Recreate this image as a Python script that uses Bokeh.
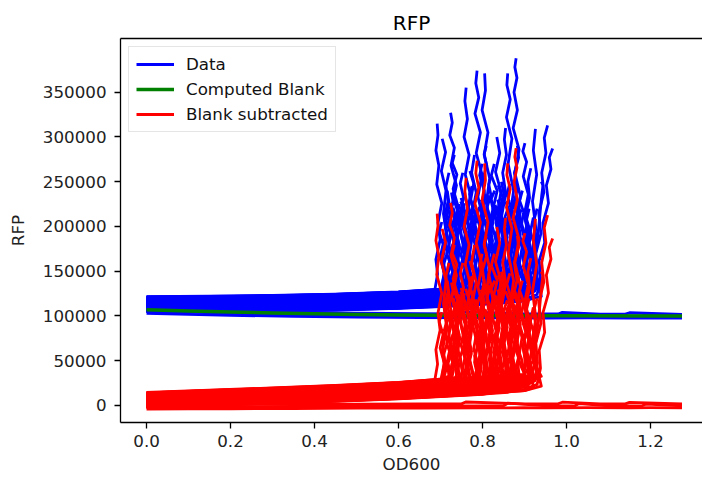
import numpy as np
from bokeh.plotting import figure
from bokeh.models import (Range1d, FixedTicker, LinearAxis, Legend, LegendItem,
                          ColumnDataSource, NumeralTickFormatter)
from bokeh.embed import file_html
from bokeh.resources import INLINE

# ---------------- data ----------------
GREEN_OD = [0.0, 0.1, 0.2, 0.3, 0.4, 0.5, 0.6, 0.7, 0.8, 1.0, 1.275]
GREEN_RFP = [107000, 105600, 104400, 103400, 102500, 101700, 101100, 100700, 100500, 100300, 100100]

B1_OD = [0.0, 0.1, 0.2, 0.35, 0.5, 0.65, 0.8, 0.9, 0.95, 1.05, 1.15, 1.2, 1.275]
B1_RFP = [103000, 101800, 100700, 99600, 98700, 98100, 97800, 97900, 97600, 97800, 97500, 97700, 97500]
B2_OD = [0.0, 0.1, 0.2, 0.35, 0.5, 0.65, 0.8, 0.85, 0.86, 0.95, 1.02, 1.03, 1.1, 1.18, 1.19, 1.275]
B2_RFP = [105500, 104200, 103000, 101800, 100900, 100300, 100000, 100100, 103000, 100000, 99900, 102500, 99800, 99800, 101800, 99700]
B3_OD = [0.0, 0.1, 0.2, 0.35, 0.5, 0.65, 0.75, 0.76, 0.9, 0.98, 0.99, 1.08, 1.14, 1.15, 1.275]
B3_RFP = [108000, 106700, 105500, 104200, 103200, 102600, 102400, 104500, 102300, 102200, 104000, 102100, 102000, 103600, 101900]

EARLY_OD = [0.0, 0.15, 0.3, 0.45, 0.6]

W01_OD = EARLY_OD + [0.67, 0.686, 0.693, 0.689, 0.699, 0.694, 0.703, 0.691, 0.696, 0.689, 0.694, 0.692]
W01_RFP = [113000, 113800, 114500, 116000, 118500, 121500, 128000, 147000, 163000, 185000, 204000, 226000, 247000, 268000, 285000, 302000, 315000]
W02_OD = EARLY_OD + [0.68, 0.70, 0.711, 0.704, 0.716, 0.707, 0.713, 0.702, 0.712, 0.704]
W02_RFP = [109000, 109500, 110200, 111500, 113500, 116000, 121000, 140000, 162000, 188000, 214000, 240000, 262000, 283000, 298000]
W03_OD = EARLY_OD + [0.7, 0.735, 0.744, 0.731, 0.739, 0.727, 0.738, 0.725, 0.733, 0.722, 0.728, 0.724]
W03_RFP = [117000, 117800, 118600, 120000, 123000, 126000, 129000, 146000, 170000, 196000, 222000, 246000, 268000, 288000, 302000, 316000, 327000]
W04_OD = EARLY_OD + [0.7, 0.77, 0.779, 0.766, 0.774, 0.763, 0.771, 0.759, 0.768, 0.756, 0.764, 0.758, 0.761]
W04_RFP = [106000, 106300, 106800, 107500, 109000, 111500, 115000, 134000, 158000, 184000, 210000, 236000, 258000, 280000, 300000, 320000, 340000, 355000]
W05_OD = EARLY_OD + [0.7, 0.8, 0.807, 0.794, 0.802, 0.789, 0.799, 0.785, 0.795, 0.782, 0.791, 0.784, 0.787]
W05_RFP = [119000, 119800, 120500, 122000, 124500, 127000, 130000, 152000, 180000, 208000, 233000, 258000, 282000, 305000, 326000, 344000, 360000, 374000]
W06_OD = EARLY_OD + [0.7, 0.82, 0.826, 0.813, 0.823, 0.809, 0.817, 0.804, 0.813, 0.799, 0.807, 0.805]
W06_RFP = [111000, 111500, 112200, 113500, 115500, 118000, 121000, 143000, 170000, 198000, 226000, 254000, 280000, 305000, 330000, 352000, 371000]
W07_OD = EARLY_OD + [0.7, 0.8, 0.875, 0.869, 0.879, 0.865, 0.874, 0.861, 0.87, 0.857, 0.866, 0.858, 0.86]
W07_RFP = [115000, 115600, 116300, 117500, 120000, 122500, 125000, 128000, 152000, 180000, 210000, 240000, 270000, 298000, 322000, 342000, 358000, 371000]
W08_OD = EARLY_OD + [0.7, 0.8, 0.89, 0.884, 0.894, 0.881, 0.89, 0.877, 0.887, 0.873, 0.883, 0.875, 0.882, 0.877, 0.88]
W08_RFP = [108000, 108400, 109000, 110000, 112000, 114500, 117000, 121000, 148000, 176000, 205000, 234000, 260000, 286000, 310000, 330000, 350000, 366000, 378000, 388000]
W09_OD = EARLY_OD + [0.7, 0.8, 0.9, 0.935, 0.924, 0.917, 0.927, 0.919, 0.929, 0.921, 0.926]
W09_RFP = [114000, 114600, 115300, 116500, 118800, 121000, 124500, 128500, 134000, 146000, 170000, 198000, 228000, 258000, 285000, 309000]
W10_OD = EARLY_OD + [0.7, 0.8, 0.9, 0.925, 0.931, 0.927, 0.939, 0.934, 0.946, 0.941, 0.951, 0.947, 0.955]
W10_RFP = [110000, 110500, 111200, 112300, 114300, 116500, 119000, 122000, 128000, 148000, 170000, 192000, 215000, 238000, 260000, 282000, 299000, 313000]
W11_OD = EARLY_OD + [0.7, 0.8, 0.9, 0.93, 0.938, 0.935, 0.948, 0.944, 0.957, 0.952, 0.963, 0.959, 0.967]
W11_RFP = [107000, 107400, 108000, 109000, 111000, 113000, 115500, 118500, 124000, 142000, 162000, 182000, 204000, 226000, 246000, 264000, 277000, 287000]
W12_OD = EARLY_OD + [0.7, 0.8, 0.91, 0.904, 0.913, 0.899, 0.909, 0.897, 0.905, 0.896, 0.901]
W12_RFP = [120000, 120800, 121600, 123000, 125500, 128000, 130500, 133000, 158000, 186000, 212000, 236000, 256000, 272000, 284000, 293000]
W13_OD = EARLY_OD + [0.7, 0.755, 0.763, 0.749, 0.759, 0.745, 0.755, 0.747, 0.753]
W13_RFP = [112000, 112500, 113200, 114500, 116800, 119000, 122000, 145000, 168000, 192000, 212000, 232000, 248000, 260000]
W14_OD = EARLY_OD + [0.7, 0.785, 0.793, 0.779, 0.789, 0.775, 0.785, 0.774, 0.781]
W14_RFP = [108500, 108900, 109500, 110500, 112500, 115000, 118000, 140000, 164000, 190000, 214000, 238000, 260000, 280000]
W15_OD = EARLY_OD + [0.7, 0.8, 0.835, 0.843, 0.829, 0.839, 0.825, 0.835, 0.821, 0.828]
W15_RFP = [116000, 116600, 117300, 118600, 121000, 123500, 126000, 129000, 150000, 174000, 198000, 220000, 240000, 257000, 270000]
W16_OD = EARLY_OD + [0.7, 0.8, 0.855, 0.863, 0.849, 0.859, 0.845, 0.853, 0.845]
W16_RFP = [105500, 105800, 106300, 107200, 109000, 111200, 113500, 116500, 140000, 164000, 188000, 210000, 231000, 250000]
W17_OD = EARLY_OD + [0.7, 0.72, 0.729, 0.715, 0.725, 0.713, 0.721, 0.716]
W17_RFP = [118500, 119200, 120000, 121500, 124000, 127500, 131000, 150000, 170000, 190000, 207000, 224000, 240000]
W18_OD = EARLY_OD + [0.7, 0.8, 0.905, 0.891, 0.879, 0.887, 0.873, 0.883, 0.87]
W18_RFP = [117500, 118200, 119000, 120300, 122800, 125300, 127000, 130500, 145000, 164000, 183000, 199000, 215000, 230000]
W19_OD = EARLY_OD + [0.7, 0.8, 0.848, 0.839, 0.848, 0.835, 0.844, 0.831, 0.841, 0.834]
W19_RFP = [121000, 121700, 122500, 124000, 126500, 129500, 132000, 134000, 160000, 188000, 214000, 239000, 261000, 282000, 300000]
W20_OD = EARLY_OD + [0.7, 0.8, 0.9, 0.94, 0.929, 0.917, 0.925, 0.914, 0.921]
W20_RFP = [106500, 106800, 107300, 108200, 110000, 112200, 117000, 124000, 133000, 143000, 160000, 177000, 194000, 210000]
W21_OD = EARLY_OD + [0.7, 0.8, 0.811, 0.799, 0.809, 0.795, 0.805, 0.797]
W21_RFP = [113500, 114000, 114800, 116000, 118300, 120800, 123000, 140000, 160000, 180000, 198000, 215000, 230000]
W22_OD = EARLY_OD + [0.7, 0.775, 0.764, 0.773, 0.759, 0.769, 0.757]
W22_RFP = [110500, 110900, 111600, 112800, 115000, 117500, 121000, 140000, 158000, 176000, 195000, 215000]
W23_OD = EARLY_OD + [0.68, 0.705, 0.714, 0.707, 0.717, 0.709, 0.715, 0.711]
W23_RFP = [114500, 115000, 115700, 117000, 119500, 123000, 127000, 142000, 157000, 172000, 185000, 195000, 200000]
W24_OD = EARLY_OD + [0.7, 0.73, 0.738, 0.733, 0.743, 0.737, 0.748, 0.741, 0.745]
W24_RFP = [107500, 107900, 108500, 109500, 111500, 114000, 118000, 135000, 152000, 170000, 186000, 202000, 215000, 225000]
W25_OD = EARLY_OD + [0.7, 0.76, 0.767, 0.762, 0.771, 0.765, 0.776, 0.769, 0.775]
W25_RFP = [119500, 120200, 121000, 122500, 125000, 128500, 132000, 150000, 168000, 187000, 205000, 222000, 236000, 245000]
W26_OD = EARLY_OD + [0.7, 0.79, 0.797, 0.792, 0.802, 0.796, 0.806, 0.8, 0.81, 0.804, 0.809]
W26_RFP = [112500, 113000, 113700, 115000, 117300, 120000, 123000, 143000, 165000, 188000, 210000, 232000, 252000, 268000, 281000, 290000]
W27_OD = EARLY_OD + [0.7, 0.8, 0.84, 0.846, 0.84, 0.85, 0.844, 0.855, 0.848, 0.857, 0.852, 0.855]
W27_RFP = [109500, 110000, 110600, 111700, 113800, 116500, 119000, 121500, 142000, 166000, 190000, 214000, 238000, 260000, 280000, 297000, 310000]
W28_OD = EARLY_OD + [0.7, 0.8, 0.865, 0.872, 0.866, 0.877, 0.87, 0.882, 0.876, 0.886, 0.883]
W28_RFP = [116500, 117100, 117900, 119200, 121700, 124300, 127000, 130000, 150000, 172000, 195000, 217000, 240000, 260000, 277000, 290000]
W29_OD = EARLY_OD + [0.7, 0.8, 0.82, 0.828, 0.823, 0.833, 0.827, 0.838, 0.84]
W29_RFP = [105000, 105300, 105800, 106700, 108500, 110500, 113000, 114500, 130000, 146000, 162000, 176000, 190000, 200000]
W30_OD = EARLY_OD + [0.7, 0.745, 0.738, 0.746, 0.734, 0.742, 0.73, 0.739, 0.728, 0.733]
W30_RFP = [120500, 121300, 122100, 123600, 126200, 129000, 132500, 152000, 176000, 200000, 222000, 242000, 258000, 271000, 280000]
W31_OD = EARLY_OD + [0.7, 0.715, 0.723, 0.718, 0.727, 0.722, 0.73]
W31_RFP = [111500, 112000, 112700, 114000, 116200, 118500, 121500, 135000, 148000, 160000, 171000, 180000]
W32_OD = EARLY_OD + [0.7, 0.8, 0.806, 0.812, 0.807, 0.816, 0.81, 0.82, 0.815, 0.82]
W32_RFP = [118000, 118700, 119500, 121000, 123500, 126000, 128500, 145000, 165000, 184000, 203000, 220000, 235000, 247000, 255000]
W33_OD = EARLY_OD + [0.7, 0.8, 0.87, 0.877, 0.872, 0.883, 0.878, 0.89, 0.886, 0.895]
W33_RFP = [106800, 107100, 107700, 108600, 110500, 112800, 115500, 118500, 136000, 154000, 172000, 190000, 208000, 225000, 240000]
W34_OD = EARLY_OD + [0.7, 0.8, 0.895, 0.902, 0.897, 0.907, 0.902, 0.912, 0.908, 0.915]
W34_RFP = [113000, 113500, 114200, 115400, 117600, 120200, 122500, 126000, 146000, 168000, 190000, 211000, 232000, 250000, 265000]
W35_OD = EARLY_OD + [0.7, 0.78, 0.786, 0.781, 0.79, 0.786, 0.795]
W35_RFP = [115500, 116100, 116900, 118200, 120600, 123000, 126000, 141000, 156000, 168000, 178000, 185000]
W36_OD = EARLY_OD + [0.7, 0.8, 0.86, 0.853, 0.858, 0.847, 0.852, 0.84]
W36_RFP = [109000, 109400, 110000, 111000, 113000, 115500, 118000, 120500, 135000, 148000, 160000, 168000, 175000]
W37_OD = EARLY_OD + [0.7, 0.8, 0.9, 0.92, 0.928, 0.934, 0.938, 0.941, 0.944, 0.94]
W37_RFP = [121500, 122200, 123000, 124500, 127000, 130000, 132500, 135000, 150000, 175000, 200000, 220000, 235000, 246000, 250000]
W38_OD = EARLY_OD + [0.7, 0.703, 0.71, 0.705, 0.714, 0.709, 0.718, 0.713, 0.72]
W38_RFP = [114800, 115300, 116000, 117300, 119800, 126000, 131000, 150000, 170000, 190000, 210000, 228000, 245000, 260000]
W39_OD = EARLY_OD + [0.7, 0.74, 0.752, 0.747, 0.758, 0.75, 0.745, 0.756, 0.749]
W39_RFP = [111800, 112300, 113000, 114300, 116500, 119000, 123000, 138000, 155000, 171000, 189000, 206000, 221000, 232000]
W40_OD = EARLY_OD + [0.7, 0.79, 0.781, 0.788, 0.777, 0.783, 0.772, 0.779, 0.77]
W40_RFP = [117800, 118500, 119300, 120700, 123200, 126500, 130000, 149000, 168000, 190000, 211000, 230000, 248000, 262000]
W41_OD = EARLY_OD + [0.7, 0.8, 0.83, 0.822, 0.816, 0.824, 0.812, 0.819, 0.81, 0.815]
W41_RFP = [106200, 106500, 107000, 107900, 109700, 112000, 114500, 116000, 133000, 152000, 172000, 190000, 207000, 222000, 235000]
W42_OD = EARLY_OD + [0.7, 0.8, 0.86, 0.851, 0.845, 0.853, 0.84, 0.848, 0.837]
W42_RFP = [119200, 119900, 120700, 122200, 124700, 128000, 130500, 133000, 152000, 174000, 196000, 216000, 233000, 246000]
W43_OD = EARLY_OD + [0.7, 0.8, 0.88, 0.871, 0.864, 0.873, 0.862, 0.868, 0.858, 0.865]
W43_RFP = [108200, 108600, 109200, 110200, 112200, 114800, 117000, 120000, 138000, 158000, 180000, 200000, 220000, 236000, 248000]
W44_OD = EARLY_OD + [0.7, 0.725, 0.731, 0.726, 0.735, 0.741, 0.736, 0.746, 0.74]
W44_RFP = [115200, 115800, 116600, 117900, 120400, 123000, 127000, 141000, 156000, 172000, 187000, 201000, 212000, 220000]
W45_OD = EARLY_OD + [0.7, 0.765, 0.758, 0.766, 0.754, 0.762, 0.75, 0.757]
W45_RFP = [110200, 110600, 111300, 112500, 114600, 117000, 120500, 138000, 156000, 175000, 194000, 212000, 226000]
W46_OD = EARLY_OD + [0.7, 0.8, 0.825, 0.834, 0.828, 0.837, 0.83, 0.841, 0.836]
W46_RFP = [113800, 114300, 115000, 116300, 118600, 121000, 123500, 126000, 141000, 157000, 173000, 189000, 204000, 216000]
W47_OD = EARLY_OD + [0.7, 0.8, 0.9, 0.915, 0.905, 0.896, 0.903, 0.892, 0.898, 0.889]
W47_RFP = [116800, 117400, 118200, 119500, 122000, 124500, 127000, 131000, 134000, 148000, 165000, 182000, 200000, 216000, 228000]
W48_OD = EARLY_OD + [0.7, 0.71, 0.702, 0.709, 0.699, 0.706, 0.697, 0.703]
W48_RFP = [107200, 107600, 108100, 109100, 111000, 113500, 116500, 132000, 148000, 165000, 180000, 194000, 205000]
W49_OD = EARLY_OD + [0.7, 0.8, 0.815, 0.808, 0.8, 0.809, 0.797, 0.804, 0.793, 0.799]
W49_RFP = [120200, 120900, 121700, 123100, 125600, 128500, 131000, 134000, 154000, 176000, 198000, 220000, 240000, 257000, 270000]
W50_OD = EARLY_OD + [0.7, 0.8, 0.87, 0.863, 0.857, 0.866, 0.855, 0.861]
W50_RFP = [109800, 110200, 110900, 112000, 114000, 116000, 118500, 121500, 137000, 154000, 170000, 184000, 196000]
W51_OD = EARLY_OD + [0.7, 0.75, 0.742, 0.735, 0.744, 0.733, 0.74, 0.729, 0.736]
W51_RFP = [114200, 114700, 115500, 116800, 119100, 121500, 124500, 141000, 160000, 180000, 200000, 218000, 234000, 247000]
W52_OD = EARLY_OD + [0.7, 0.8, 0.85, 0.858, 0.866, 0.86, 0.87, 0.864, 0.873]
W52_RFP = [112200, 112700, 113400, 114700, 116900, 119500, 122000, 124500, 140000, 157000, 175000, 192000, 207000, 218000]
W53_OD = EARLY_OD + [0.7, 0.77, 0.762, 0.755, 0.764, 0.752, 0.759, 0.748]
W53_RFP = [118200, 118900, 119700, 121100, 123600, 126000, 129500, 146000, 165000, 184000, 201000, 216000, 228000]
W54_OD = EARLY_OD + [0.7, 0.8, 0.9, 0.922, 0.912, 0.904, 0.911, 0.9, 0.907]
W54_RFP = [105800, 106100, 106600, 107500, 109300, 111500, 114000, 117000, 120500, 137000, 156000, 174000, 191000, 205000]
W55_OD = EARLY_OD + [0.7, 0.8, 0.805, 0.797, 0.79, 0.798, 0.786, 0.793]
W55_RFP = [116200, 116800, 117600, 118900, 121400, 124000, 126500, 142000, 160000, 178000, 195000, 210000, 222000]
W56_OD = EARLY_OD + [0.7, 0.8, 0.84, 0.833, 0.826, 0.835, 0.823, 0.83, 0.819]
W56_RFP = [110800, 111300, 112000, 113200, 115300, 117800, 120000, 122500, 140000, 160000, 181000, 200000, 218000, 232000]
W57_OD = EARLY_OD + [0.7, 0.8, 0.9, 0.925, 0.915, 0.906, 0.898, 0.887, 0.879, 0.868]
W57_RFP = [112600, 113100, 113800, 115100, 117400, 120000, 122500, 126000, 129500, 145000, 160000, 176000, 192000, 207000, 220000]
W58_OD = EARLY_OD + [0.7, 0.8, 0.91, 0.9, 0.893, 0.881, 0.874, 0.862, 0.856]
W58_RFP = [108800, 109200, 109800, 110800, 112800, 115300, 117600, 121000, 136000, 152000, 168000, 184000, 198000, 210000]
W59_OD = EARLY_OD + [0.7, 0.8, 0.885, 0.876, 0.866, 0.858, 0.847, 0.839, 0.83]
W59_RFP = [117200, 117800, 118600, 119900, 122400, 125000, 127500, 130500, 146000, 163000, 180000, 196000, 211000, 224000]
W60_OD = EARLY_OD + [0.7, 0.8, 0.86, 0.851, 0.842, 0.833, 0.823, 0.815, 0.806]
W60_RFP = [105200, 105500, 106000, 106900, 108700, 110800, 113200, 115000, 131000, 148000, 165000, 181000, 196000, 208000]
W61_OD = EARLY_OD + [0.7, 0.8, 0.835, 0.826, 0.818, 0.809, 0.8, 0.791, 0.783]
W61_RFP = [114600, 115100, 115900, 117200, 119500, 122000, 124500, 127000, 143000, 160000, 177000, 193000, 207000, 219000]
W62_OD = EARLY_OD + [0.7, 0.8, 0.81, 0.802, 0.793, 0.786, 0.776, 0.768, 0.76]
W62_RFP = [119800, 120500, 121300, 122700, 125200, 128000, 130500, 133000, 150000, 168000, 186000, 203000, 218000, 231000]
W63_OD = EARLY_OD + [0.7, 0.785, 0.777, 0.769, 0.761, 0.752, 0.744, 0.737]
W63_RFP = [107800, 108200, 108800, 109800, 111800, 114200, 118000, 134000, 151000, 168000, 184000, 199000, 212000]
W64_OD = EARLY_OD + [0.7, 0.76, 0.752, 0.745, 0.737, 0.729, 0.722, 0.715]
W64_RFP = [113200, 113700, 114400, 115700, 117900, 120300, 124000, 140000, 156000, 172000, 188000, 202000, 214000]
W65_OD = EARLY_OD + [0.7, 0.8, 0.9, 0.93, 0.921, 0.913, 0.904, 0.895, 0.886, 0.877]
W65_RFP = [116400, 117000, 117800, 119100, 121600, 124000, 126500, 130000, 135000, 150000, 167000, 184000, 200000, 215000, 228000]
W66_OD = EARLY_OD + [0.7, 0.8, 0.87, 0.875, 0.866, 0.873, 0.862, 0.868, 0.858, 0.864, 0.855]
W66_RFP = [110600, 111000, 111700, 112900, 115100, 117500, 119800, 122500, 126000, 140000, 156000, 172000, 188000, 203000, 217000, 228000]
W67_OD = EARLY_OD + [0.7, 0.8, 0.9, 0.918, 0.926, 0.918, 0.928, 0.921, 0.93]
W67_RFP = [118800, 119500, 120300, 121700, 124200, 127000, 129500, 132000, 136000, 152000, 170000, 188000, 205000, 220000]
W68_OD = EARLY_OD + [0.7, 0.74, 0.748, 0.755, 0.762, 0.77, 0.777, 0.785]
W68_RFP = [106600, 106900, 107500, 108400, 110300, 112500, 115500, 131000, 147000, 163000, 179000, 194000, 207000]
W69_OD = EARLY_OD + [0.7, 0.78, 0.787, 0.795, 0.803, 0.811, 0.818, 0.826]
W69_RFP = [115800, 116400, 117200, 118500, 120900, 123300, 127000, 143000, 160000, 177000, 193000, 208000, 221000]
W70_OD = EARLY_OD + [0.7, 0.8, 0.82, 0.828, 0.836, 0.845, 0.853, 0.861, 0.868]
W70_RFP = [109200, 109600, 110200, 111200, 113200, 115800, 118200, 120500, 136000, 153000, 170000, 186000, 201000, 214000]
W71_OD = EARLY_OD + [0.7, 0.72, 0.716, 0.724, 0.719, 0.727, 0.722, 0.73, 0.726]
W71_RFP = [121200, 121900, 122700, 124200, 126700, 130000, 133500, 150000, 167000, 184000, 200000, 215000, 228000, 238000]
W72_OD = EARLY_OD + [0.7, 0.8, 0.88, 0.887, 0.879, 0.888, 0.881, 0.89, 0.884, 0.892]
W72_RFP = [111200, 111700, 112400, 113600, 115800, 118300, 120800, 123500, 127000, 142000, 158000, 175000, 191000, 206000, 219000]
W73_OD = EARLY_OD + [0.7, 0.8, 0.9, 0.92, 0.911, 0.917, 0.907, 0.914, 0.905, 0.911]
W73_RFP = [113600, 114100, 114800, 116100, 118300, 120800, 123200, 126500, 131000, 146000, 162000, 178000, 194000, 208000, 220000]
W74_OD = EARLY_OD + [0.7, 0.765, 0.771, 0.765, 0.774, 0.767, 0.777, 0.771, 0.779]
W74_RFP = [107000, 107400, 107900, 108900, 110800, 113000, 116500, 131000, 146000, 161000, 176000, 190000, 202000, 212000]
W75_OD = EARLY_OD + [0.7, 0.8, 0.815, 0.821, 0.814, 0.824, 0.817, 0.826, 0.82, 0.829]
W75_RFP = [117600, 118200, 119000, 120400, 122900, 125500, 128000, 131000, 148000, 166000, 184000, 201000, 217000, 230000, 240000]
W76_OD = EARLY_OD + [0.7, 0.73, 0.724, 0.731, 0.725, 0.733, 0.727, 0.735, 0.73]
W76_RFP = [112800, 113300, 114000, 115300, 117500, 120000, 123500, 139000, 155000, 171000, 186000, 200000, 212000, 221000]
W77_OD = EARLY_OD + [0.7, 0.8, 0.9, 0.94, 0.933, 0.926, 0.918, 0.912, 0.904]
W77_RFP = [105600, 105900, 106400, 107300, 109100, 111300, 113700, 117000, 122000, 136000, 151000, 166000, 180000, 192000]
W78_OD = EARLY_OD + [0.7, 0.8, 0.83, 0.838, 0.83, 0.84, 0.832, 0.843, 0.836]
W78_RFP = [120800, 121500, 122300, 123800, 126300, 129000, 131500, 134000, 151000, 169000, 187000, 204000, 219000, 230000]
W79_OD = EARLY_OD + [0.7, 0.8, 0.855, 0.847, 0.856, 0.849, 0.858, 0.85, 0.859]
W79_RFP = [114000, 114500, 115200, 116500, 118700, 121300, 123800, 126000, 142000, 159000, 176000, 192000, 206000, 218000]
W80_OD = EARLY_OD + [0.7, 0.795, 0.789, 0.797, 0.79, 0.799, 0.792, 0.801, 0.794]
W80_RFP = [109600, 110000, 110600, 111700, 113700, 116200, 120000, 136000, 152000, 168000, 184000, 198000, 211000, 222000]

X_TICKS = [0.0, 0.2, 0.4, 0.6, 0.8, 1.0, 1.2]
Y_TICKS = [0, 50000, 100000, 150000, 200000, 250000, 300000, 350000]

WELLS = [(globals()["W%02d_OD" % i], globals()["W%02d_RFP" % i]) for i in range(1, 81)]
WELLS += [(B1_OD, B1_RFP), (B2_OD, B2_RFP), (B3_OD, B3_RFP)]

blue_xs = [list(od) for od, _ in WELLS]
blue_ys = [list(r) for _, r in WELLS]
red_ys = [list(np.array(r, dtype=float) - np.interp(od, GREEN_OD, GREEN_RFP)) for od, r in WELLS]

FONT = "DejaVu Sans"
FS = "16.7px"

p = figure(width=702, height=478, output_backend="svg", toolbar_location=None,
           x_range=Range1d(-0.062, 1.3238), y_range=Range1d(-19000, 410000),
           min_border_left=120, min_border_right=0, min_border_top=38, min_border_bottom=56,
           x_axis_label="OD600", y_axis_label="RFP", title="RFP")

p.outline_line_color = None
p.xgrid.visible = False
p.ygrid.visible = False
p.background_fill_color = "white"
p.border_fill_color = "white"

p.title.text_font = FONT
p.title.text_font_size = "20px"
p.title.text_font_style = "normal"
p.title.text_color = "black"
p.title.align = "center"
p.title.standoff = 8

for ax in (p.below[0], p.left[0]):
    ax.axis_line_color = "black"
    ax.axis_line_width = 1.3
    ax.major_tick_line_color = "black"
    ax.major_tick_line_width = 1.3
    ax.major_tick_out = 6
    ax.major_tick_in = 0
    ax.minor_tick_line_color = None
    ax.major_label_text_font = FONT
    ax.major_label_text_font_size = FS
    ax.major_label_text_color = "#222222"
    ax.axis_label_text_font = FONT
    ax.axis_label_text_font_size = FS
    ax.axis_label_text_font_style = "normal"
    ax.axis_label_text_color = "#222222"

p.below[0].ticker = FixedTicker(ticks=X_TICKS)
p.below[0].formatter = NumeralTickFormatter(format="0.0")
p.below[0].major_label_standoff = 6
p.below[0].axis_label_standoff = 4
p.left[0].ticker = FixedTicker(ticks=Y_TICKS)
p.left[0].formatter = NumeralTickFormatter(format="0")
p.left[0].major_label_standoff = 8
p.left[0].axis_label_standoff = 12

top = LinearAxis(ticker=FixedTicker(ticks=[]), axis_line_color="black", axis_line_width=1.3,
                 major_tick_line_color=None, minor_tick_line_color=None)
p.add_layout(top, "above")

src_blue = ColumnDataSource(dict(xs=blue_xs, ys=blue_ys))
src_red = ColumnDataSource(dict(xs=blue_xs, ys=red_ys))
src_green = ColumnDataSource(dict(x=GREEN_OD, y=GREEN_RFP))

r_blue = p.multi_line("xs", "ys", source=src_blue, line_color="#0000ff", line_width=2.8, line_join="round")
r_green = p.line("x", "y", source=src_green, line_color="#008000", line_width=3.5, line_join="round")
r_red = p.multi_line("xs", "ys", source=src_red, line_color="#ff0000", line_width=2.8, line_join="round")

legend = Legend(items=[LegendItem(label="Data", renderers=[r_blue]),
                       LegendItem(label="Computed Blank", renderers=[r_green]),
                       LegendItem(label="Blank subtracted", renderers=[r_red])],
                location="top_left", margin=8, padding=7, spacing=5,
                glyph_width=38, glyph_height=20, label_height=20, label_standoff=12,
                label_text_font=FONT, label_text_font_size=FS, label_text_color="#111111",
                border_line_color="#cccccc", border_line_width=1,
                background_fill_color="white", background_fill_alpha=0.8)
p.add_layout(legend)

open("out.html", "w").write(file_html(p, INLINE))
